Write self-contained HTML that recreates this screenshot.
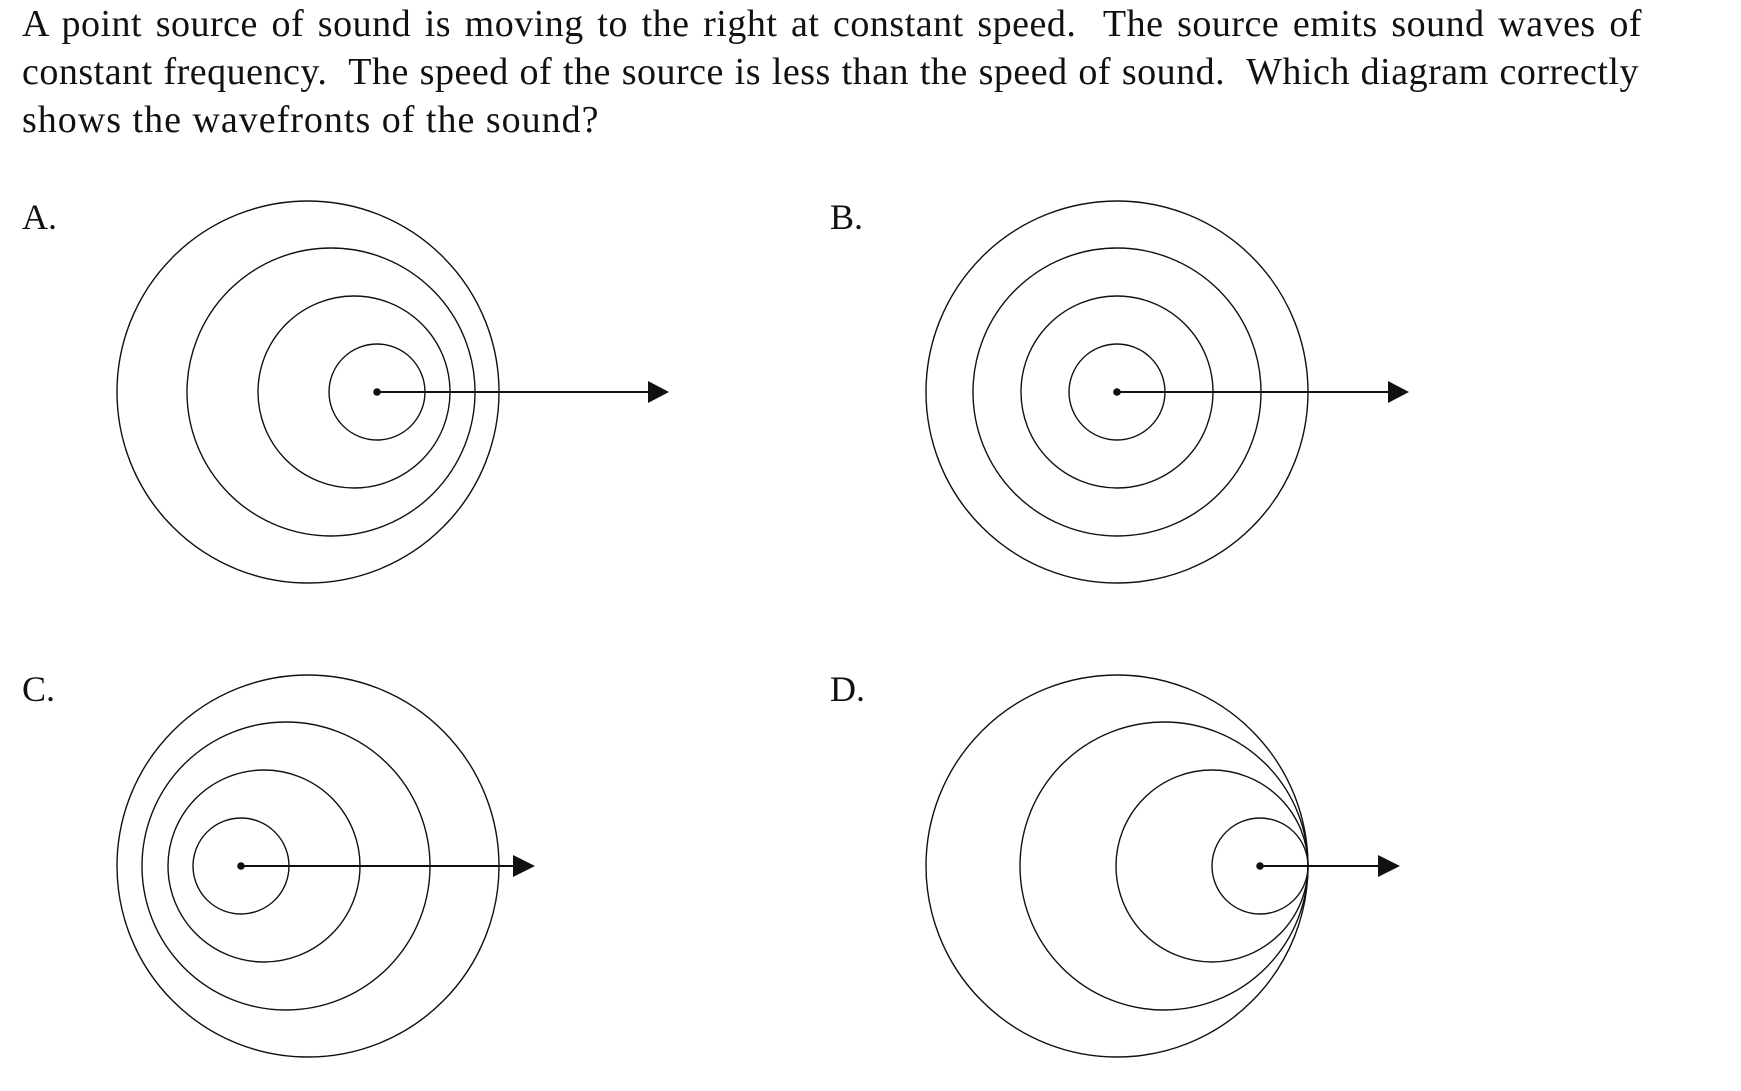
<!DOCTYPE html>
<html><head><meta charset="utf-8"><style>
html,body{margin:0;padding:0;background:#fff;}
body{width:1741px;height:1091px;position:relative;overflow:hidden;font-family:"Liberation Serif",serif;color:#111;}
.q{position:absolute;left:22px;top:0px;font-size:38px;letter-spacing:0.5px;line-height:48px;white-space:nowrap;}
.q div{text-align:justify;text-align-last:justify;white-space:normal;}
.l{position:absolute;font-size:36px;line-height:40px;}
svg{position:absolute;left:0;top:0;}
</style></head><body>
<div class="q">
<div style="width:1620px">A point source of sound is moving to the right at constant speed.&nbsp; The source emits sound waves of</div>
<div style="width:1617px">constant frequency.&nbsp; The speed of the source is less than the speed of sound.&nbsp; Which diagram correctly</div>
<div style="text-align:left;text-align-last:left;letter-spacing:1px">shows the wavefronts of the sound?</div>
</div>
<div class="l" style="left:22px;top:197px">A.</div>
<div class="l" style="left:830px;top:197px">B.</div>
<div class="l" style="left:22px;top:669px">C.</div>
<div class="l" style="left:830px;top:669px">D.</div>
<svg width="1741" height="1091" viewBox="0 0 1741 1091">
<g fill="none" stroke="#111" stroke-width="1.4">
<circle cx="308" cy="392" r="191"/><circle cx="331" cy="392" r="144"/><circle cx="354" cy="392" r="96"/><circle cx="377" cy="392" r="48"/>
<circle cx="1117" cy="392" r="191"/><circle cx="1117" cy="392" r="144"/><circle cx="1117" cy="392" r="96"/><circle cx="1117" cy="392" r="48"/>
<circle cx="308" cy="866" r="191"/><circle cx="286" cy="866" r="144"/><circle cx="264" cy="866" r="96"/><circle cx="241" cy="866" r="48"/>
<circle cx="1117" cy="866" r="191"/><circle cx="1164" cy="866" r="144"/><circle cx="1212" cy="866" r="96"/><circle cx="1260" cy="866" r="48"/>
</g>
<g stroke="#111" stroke-width="2">
<line x1="377" y1="392" x2="649" y2="392"/>
<line x1="1117" y1="392" x2="1389" y2="392"/>
<line x1="241" y1="866" x2="514" y2="866"/>
<line x1="1260" y1="866" x2="1379" y2="866"/>
</g>
<g fill="#111">
<circle cx="377" cy="392" r="3.8"/><polygon points="648,381 669,392 648,403"/>
<circle cx="1117" cy="392" r="3.8"/><polygon points="1388,381 1409,392 1388,403"/>
<circle cx="241" cy="866" r="3.8"/><polygon points="513,855 535,866 513,877"/>
<circle cx="1260" cy="866" r="3.8"/><polygon points="1378,855 1400,866 1378,877"/>
</g>
</svg>
</body></html>
